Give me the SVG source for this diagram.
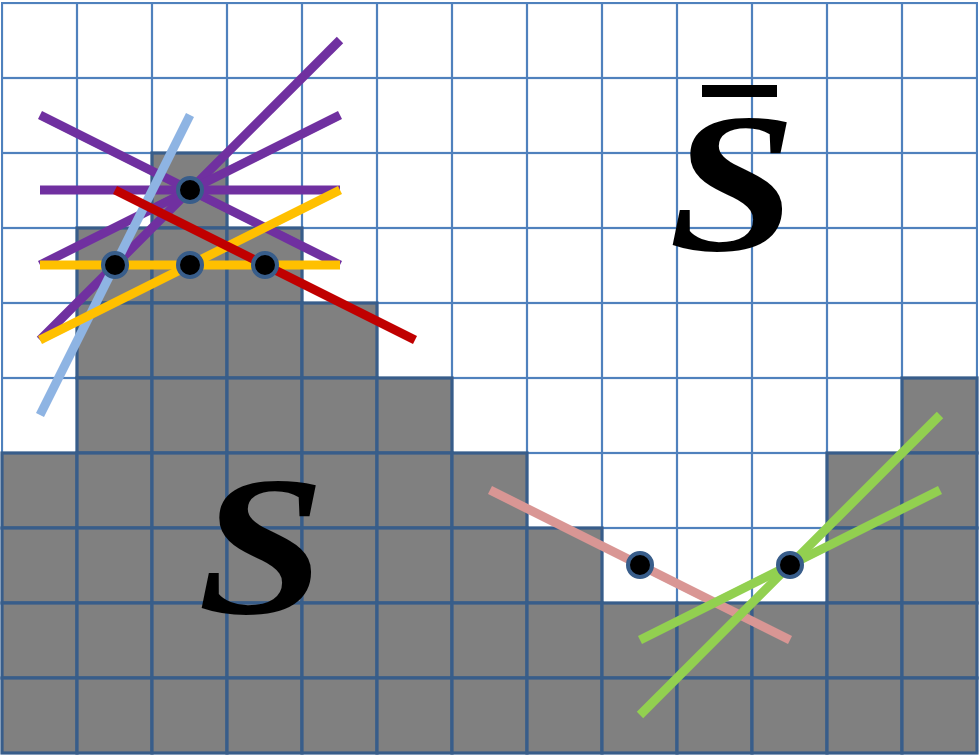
<svg xmlns="http://www.w3.org/2000/svg" width="980" height="756" viewBox="0 0 980 756">
<defs>
<style>
.g{fill:#808080;stroke:#385D8A;stroke-width:3.2}
.ln{fill:none;stroke-width:9;stroke-linecap:butt}
.pu{stroke:#7030A0}
.lb{stroke:#8EB4E3}
.ye{stroke:#FFC000}
.re{stroke:#C00000}
.pk{stroke:#D99694}
.gr{stroke:#92D050}
.dot{fill:#000000;stroke:#385D8A;stroke-width:4}
.lbl{font-family:"Liberation Serif","Times New Roman",serif;font-style:italic;font-weight:bold;font-size:200px;fill:#000000}
</style>
<pattern id="cells" x="2" y="3" width="75" height="75" patternUnits="userSpaceOnUse">
<rect x="0" y="0" width="75" height="75" fill="#FFFFFF" stroke="#4F81BD" stroke-width="2.2"/>
</pattern>
</defs>
<rect x="0" y="0" width="980" height="756" fill="#FFFFFF"/>
<g id="grid">
<rect x="2" y="3" width="975" height="750" fill="url(#cells)" stroke="#4F81BD" stroke-width="2"/>
</g>
<g id="S-region">
<rect class="g" x="152" y="153" width="75" height="75"/>
<rect class="g" x="77" y="228" width="75" height="75"/>
<rect class="g" x="152" y="228" width="75" height="75"/>
<rect class="g" x="227" y="228" width="75" height="75"/>
<rect class="g" x="77" y="303" width="75" height="75"/>
<rect class="g" x="152" y="303" width="75" height="75"/>
<rect class="g" x="227" y="303" width="75" height="75"/>
<rect class="g" x="302" y="303" width="75" height="75"/>
<rect class="g" x="77" y="378" width="75" height="75"/>
<rect class="g" x="152" y="378" width="75" height="75"/>
<rect class="g" x="227" y="378" width="75" height="75"/>
<rect class="g" x="302" y="378" width="75" height="75"/>
<rect class="g" x="377" y="378" width="75" height="75"/>
<rect class="g" x="902" y="378" width="75" height="75"/>
<rect class="g" x="2" y="453" width="75" height="75"/>
<rect class="g" x="77" y="453" width="75" height="75"/>
<rect class="g" x="152" y="453" width="75" height="75"/>
<rect class="g" x="227" y="453" width="75" height="75"/>
<rect class="g" x="302" y="453" width="75" height="75"/>
<rect class="g" x="377" y="453" width="75" height="75"/>
<rect class="g" x="452" y="453" width="75" height="75"/>
<rect class="g" x="827" y="453" width="75" height="75"/>
<rect class="g" x="902" y="453" width="75" height="75"/>
<rect class="g" x="2" y="528" width="75" height="75"/>
<rect class="g" x="77" y="528" width="75" height="75"/>
<rect class="g" x="152" y="528" width="75" height="75"/>
<rect class="g" x="227" y="528" width="75" height="75"/>
<rect class="g" x="302" y="528" width="75" height="75"/>
<rect class="g" x="377" y="528" width="75" height="75"/>
<rect class="g" x="452" y="528" width="75" height="75"/>
<rect class="g" x="527" y="528" width="75" height="75"/>
<rect class="g" x="827" y="528" width="75" height="75"/>
<rect class="g" x="902" y="528" width="75" height="75"/>
<rect class="g" x="2" y="603" width="75" height="75"/>
<rect class="g" x="77" y="603" width="75" height="75"/>
<rect class="g" x="152" y="603" width="75" height="75"/>
<rect class="g" x="227" y="603" width="75" height="75"/>
<rect class="g" x="302" y="603" width="75" height="75"/>
<rect class="g" x="377" y="603" width="75" height="75"/>
<rect class="g" x="452" y="603" width="75" height="75"/>
<rect class="g" x="527" y="603" width="75" height="75"/>
<rect class="g" x="602" y="603" width="75" height="75"/>
<rect class="g" x="677" y="603" width="75" height="75"/>
<rect class="g" x="752" y="603" width="75" height="75"/>
<rect class="g" x="827" y="603" width="75" height="75"/>
<rect class="g" x="902" y="603" width="75" height="75"/>
<rect class="g" x="2" y="678" width="75" height="75"/>
<rect class="g" x="77" y="678" width="75" height="75"/>
<rect class="g" x="152" y="678" width="75" height="75"/>
<rect class="g" x="227" y="678" width="75" height="75"/>
<rect class="g" x="302" y="678" width="75" height="75"/>
<rect class="g" x="377" y="678" width="75" height="75"/>
<rect class="g" x="452" y="678" width="75" height="75"/>
<rect class="g" x="527" y="678" width="75" height="75"/>
<rect class="g" x="602" y="678" width="75" height="75"/>
<rect class="g" x="677" y="678" width="75" height="75"/>
<rect class="g" x="752" y="678" width="75" height="75"/>
<rect class="g" x="827" y="678" width="75" height="75"/>
<rect class="g" x="902" y="678" width="75" height="75"/>
</g>
<g id="labels">
<text class="lbl" x="0" y="0" transform="translate(197.5,613) scale(1.15,1)">S</text>
<text class="lbl" x="0" y="0" transform="translate(668.5,250) scale(1.15,1)">S</text>
<rect x="702" y="85" width="75" height="12" fill="#000000"/>
</g>
<g id="connectors">
<line class="ln pu" x1="40" y1="115" x2="340" y2="265"/>
<line class="ln pu" x1="40" y1="190" x2="340" y2="190"/>
<line class="ln pu" x1="40" y1="340" x2="340" y2="40"/>
<line class="ln pu" x1="40" y1="265" x2="340" y2="115"/>
<line class="ln lb" x1="40" y1="415" x2="190" y2="115"/>
<line class="ln ye" x1="40" y1="265" x2="340" y2="265"/>
<line class="ln ye" x1="40" y1="340" x2="340" y2="190"/>
<line class="ln re" x1="115" y1="190" x2="415" y2="340"/>
<line class="ln pk" x1="490" y1="490" x2="790" y2="640"/>
<line class="ln gr" x1="640" y1="715" x2="940" y2="415"/>
<line class="ln gr" x1="640" y1="640" x2="940" y2="490"/>
</g>
<g id="p1"><circle class="dot" cx="190" cy="190" r="12"/></g>
<g id="p2"><circle class="dot" cx="115" cy="265" r="12"/></g>
<g id="p3"><circle class="dot" cx="190" cy="265" r="12"/></g>
<g id="p4"><circle class="dot" cx="265" cy="265" r="12"/></g>
<g id="p5"><circle class="dot" cx="640" cy="565" r="12"/></g>
<g id="p6"><circle class="dot" cx="790" cy="565" r="12"/></g>
</svg>
